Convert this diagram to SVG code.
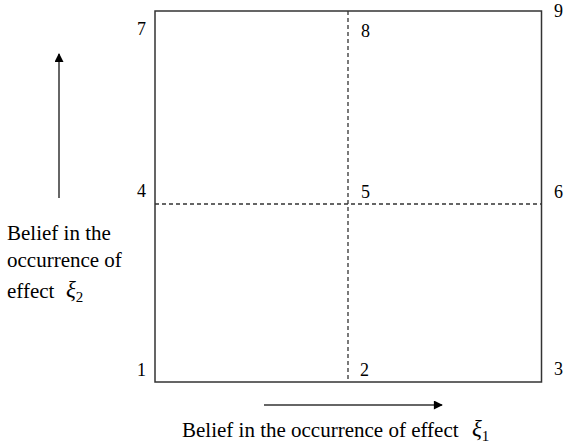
<svg xmlns="http://www.w3.org/2000/svg" width="564" height="446" viewBox="0 0 564 446">
<style>
text{font-family:"Liberation Serif","Times New Roman",serif;fill:#000}
.n{font-size:18px}
.t{font-size:21px}
.xi{font-style:italic;font-size:23px}
.sub{font-size:15px}
.box{fill:none;stroke:#333;stroke-width:1.5}
.dash{stroke:#333;stroke-width:1.3;stroke-dasharray:4,3;fill:none}
.ax{stroke:#333;stroke-width:1.5;fill:none}
</style>
<defs>
<marker id="ah" viewBox="0 0 10 10" refX="9" refY="5" markerWidth="10" markerHeight="9" markerUnits="userSpaceOnUse" orient="auto"><path d="M0,0L10,5L0,10z" fill="#000"/></marker>
</defs>
<g id="grid">
<rect class="box" x="155" y="11" width="386.5" height="371"/>
<line class="dash" x1="348" y1="11" x2="348" y2="382"/>
<line class="dash" x1="155" y1="204" x2="541.5" y2="204"/>
</g>
<g id="labels">
<text class="n" x="137" y="35">7</text>
<text class="n" x="361" y="37">8</text>
<text class="n" x="554" y="17">9</text>
<text class="n" x="137" y="197">4</text>
<text class="n" x="361" y="198">5</text>
<text class="n" x="554" y="198">6</text>
<text class="n" x="137" y="376">1</text>
<text class="n" x="360" y="376">2</text>
<text class="n" x="554" y="375">3</text>
</g>
<g id="connectors">
<line class="ax" x1="59" y1="198" x2="59" y2="54" marker-end="url(#ah)"/>
<line class="ax" x1="264" y1="405" x2="442" y2="405" marker-end="url(#ah)"/>
</g>
<g id="ylabel">
<text class="t" x="7" y="240">Belief in the</text>
<text class="t" x="7" y="267">occurrence of</text>
<text class="t" x="7" y="298">effect</text>
<text x="66" y="297"><tspan class="xi">ξ</tspan><tspan class="sub" dy="5">2</tspan></text>
</g>
<g id="xlabel">
<text class="t" x="182" y="437">Belief in the occurrence of effect</text>
<text x="472" y="436"><tspan class="xi">ξ</tspan><tspan class="sub" dy="5">1</tspan></text>
</g>
</svg>
